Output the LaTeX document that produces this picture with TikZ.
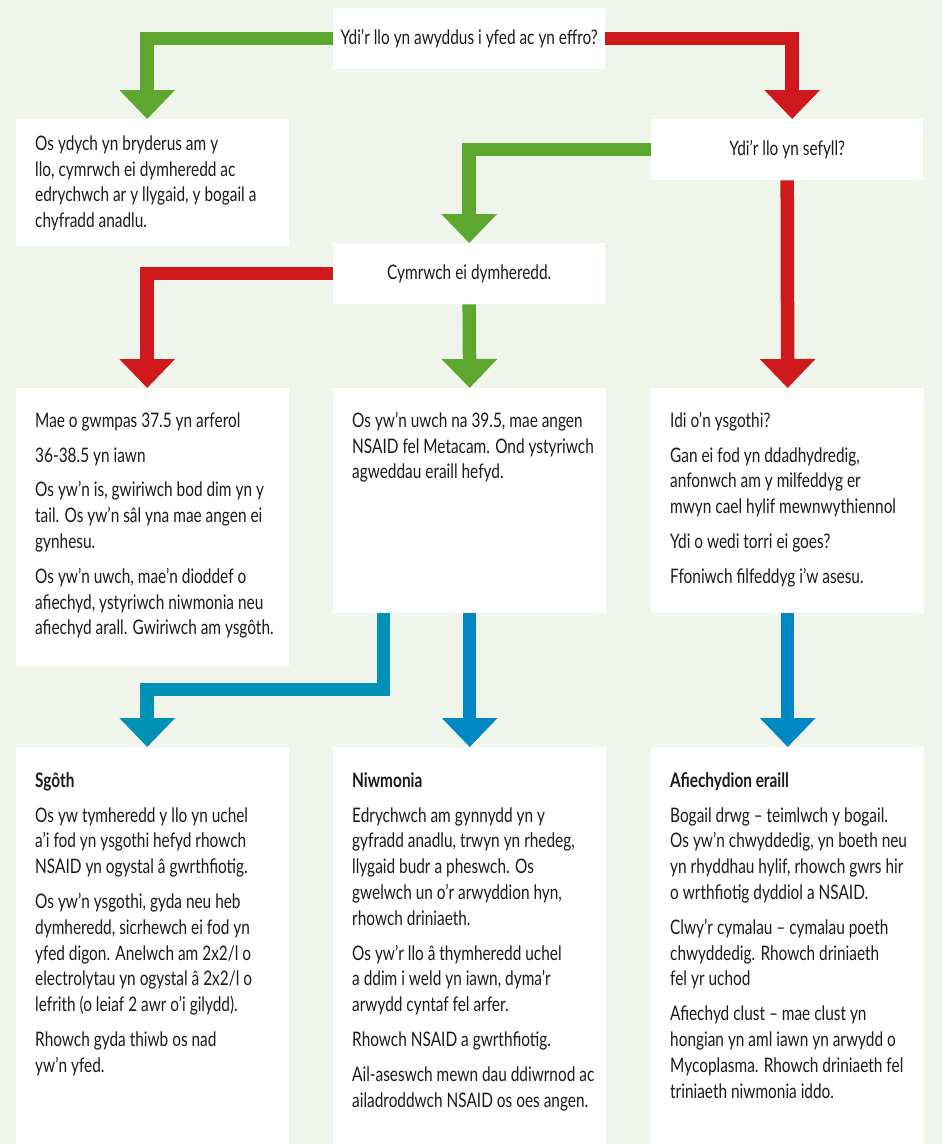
\documentclass[tikz,border=0pt]{standalone}
\usepackage{fontspec}
\setmainfont{Lato}[FakeStretch=0.77]
\usepackage{xcolor}
\usepackage{tikz}
\usetikzlibrary{positioning,calc,arrows.meta}

\definecolor{bgGreen}{HTML}{EFF5EA}
\definecolor{yesGreen}{HTML}{5EA72E}
\definecolor{noRed}{HTML}{D0191D}
\definecolor{tealBlue}{HTML}{0092B6}
\definecolor{midBlue}{HTML}{0088C4}
\definecolor{inkGrey}{HTML}{1C1C1C}

% text inside a card: width, height, first baseline, body
\newcommand{\cardtext}[4]{\parbox[t][#2][t]{#1}{\raggedright\leftskip=19pt
  \fontsize{20}{25.8}\selectfont\setlength{\parskip}{9pt}%
  \rule{0pt}{#3}#4}}

\begin{document}
\begin{tikzpicture}[x=1pt, y=-1pt,
    card/.style={fill=white, anchor=north west, inner sep=0pt, text=inkGrey},
    qbox/.style={card, minimum width=272pt, minimum height=61pt, font=\fontsize{20}{24}\selectfont},
    flow/.style={line width=13.5pt, -{Triangle[width=54pt,length=29pt]}}]
    \useasboundingbox[fill=bgGreen] (0,0) rectangle (942,1144);

    % questions
    \node[qbox] (alert) at (333,8) {Ydi’r llo yn awyddus i yfed ac yn effro?};
    \node[qbox] (standing) at (651,119) {Ydi’r llo yn sefyll?};
    \node[qbox] (temp) at (333,243) {Cymrwch ei dymheredd.};
    \node[card] (concern) at (16,119) {\cardtext{273pt}{127pt}{31pt}{Os ydych yn bryderus am y\\
      llo, cymrwch ei dymheredd ac\\
      edrychwch ar y llygaid, y bogail a\\
      chyfradd anadlu.}};

    % second row
    \node[card] (tempLow) at (16,388) {\cardtext{273pt}{278pt}{39pt}{Mae o gwmpas 37.5 yn arferol

      36-38.5 yn iawn

      Os yw’n is, gwiriwch bod dim yn y\\
      tail. Os yw’n sâl yna mae angen ei\\
      gynhesu.

      Os yw’n uwch, mae’n dioddef o\\
      afiechyd, ystyriwch niwmonia neu\\
      afiechyd arall. Gwiriwch am ysgôth.}};
    \node[card] (tempHigh) at (333,388) {\cardtext{273pt}{225pt}{39pt}{Os yw’n uwch na 39.5, mae angen\\
      NSAID fel Metacam. Ond ystyriwch\\
      agweddau eraill hefyd.}};
    \node[card] (notStanding) at (651,388) {\cardtext{273pt}{225pt}{39pt}{Idi o’n ysgothi?

      Gan ei fod yn ddadhydredig,\\
      anfonwch am y milfeddyg er\\
      mwyn cael hylif mewnwythiennol

      Ydi o wedi torri ei goes?

      Ffoniwch filfeddyg i’w asesu.}};

    % third row
    \node[card] (scour) at (16,747) {\cardtext{273pt}{397pt}{40pt}{\textbf{Sgôth}

      Os yw tymheredd y llo yn uchel\\
      a’i fod yn ysgothi hefyd rhowch\\
      NSAID yn ogystal â gwrthfiotig.

      Os yw’n ysgothi, gyda neu heb\\
      dymheredd, sicrhewch ei fod yn\\
      yfed digon. Anelwch am 2x2/l o\\
      electrolytau yn ogystal â 2x2/l o\\
      lefrith (o leiaf 2 awr o’i gilydd).

      Rhowch gyda thiwb os nad\\
      yw’n yfed.}};
    \node[card] (pneumonia) at (333,747) {\cardtext{273pt}{397pt}{40pt}{\textbf{Niwmonia}

      Edrychwch am gynnydd yn y\\
      gyfradd anadlu, trwyn yn rhedeg,\\
      llygaid budr a pheswch. Os\\
      gwelwch un o’r arwyddion hyn,\\
      rhowch driniaeth.

      Os yw’r llo â thymheredd uchel\\
      a ddim i weld yn iawn, dyma’r\\
      arwydd cyntaf fel arfer.

      Rhowch NSAID a gwrthfiotig.

      Ail-aseswch mewn dau ddiwrnod ac\\
      ailadroddwch NSAID os oes angen.}};
    \node[card] (other) at (651,747) {\cardtext{273pt}{397pt}{40pt}{\textbf{Afiechydion eraill}

      Bogail drwg – teimlwch y bogail.\\
      Os yw’n chwyddedig, yn boeth neu\\
      yn rhyddhau hylif, rhowch gwrs hir\\
      o wrthfiotig dyddiol a NSAID.

      Clwy’r cymalau – cymalau poeth\\
      chwyddedig. Rhowch driniaeth\\
      fel yr uchod

      Afiechyd clust – mae clust yn\\
      hongian yn aml iawn yn arwydd o\\
      Mycoplasma. Rhowch driniaeth fel\\
      triniaeth niwmonia iddo.}};

    % connectors
    \draw[flow, yesGreen] (alert.west) -| ([xshift=-5.5pt]concern.north);
    \draw[flow, noRed] (alert.east) -| ([xshift=5pt]standing.north);
    \draw[flow, yesGreen] (standing.west) -| (temp.north);
    \draw[flow, noRed] (standing.south) -- (notStanding.north);
    \draw[flow, noRed] (temp.west) -| ([xshift=-5.5pt]tempLow.north);
    \draw[flow, yesGreen] (temp.south) -- (tempHigh.north);
    \draw[flow, tealBlue] ([xshift=-86pt]tempHigh.south) -- ++(0,76) -| ([xshift=-5.5pt]scour.north);
    \draw[flow, midBlue] (tempHigh.south) -- (pneumonia.north);
    \draw[flow, midBlue] (notStanding.south) -- (other.north);
\end{tikzpicture}
\end{document}
